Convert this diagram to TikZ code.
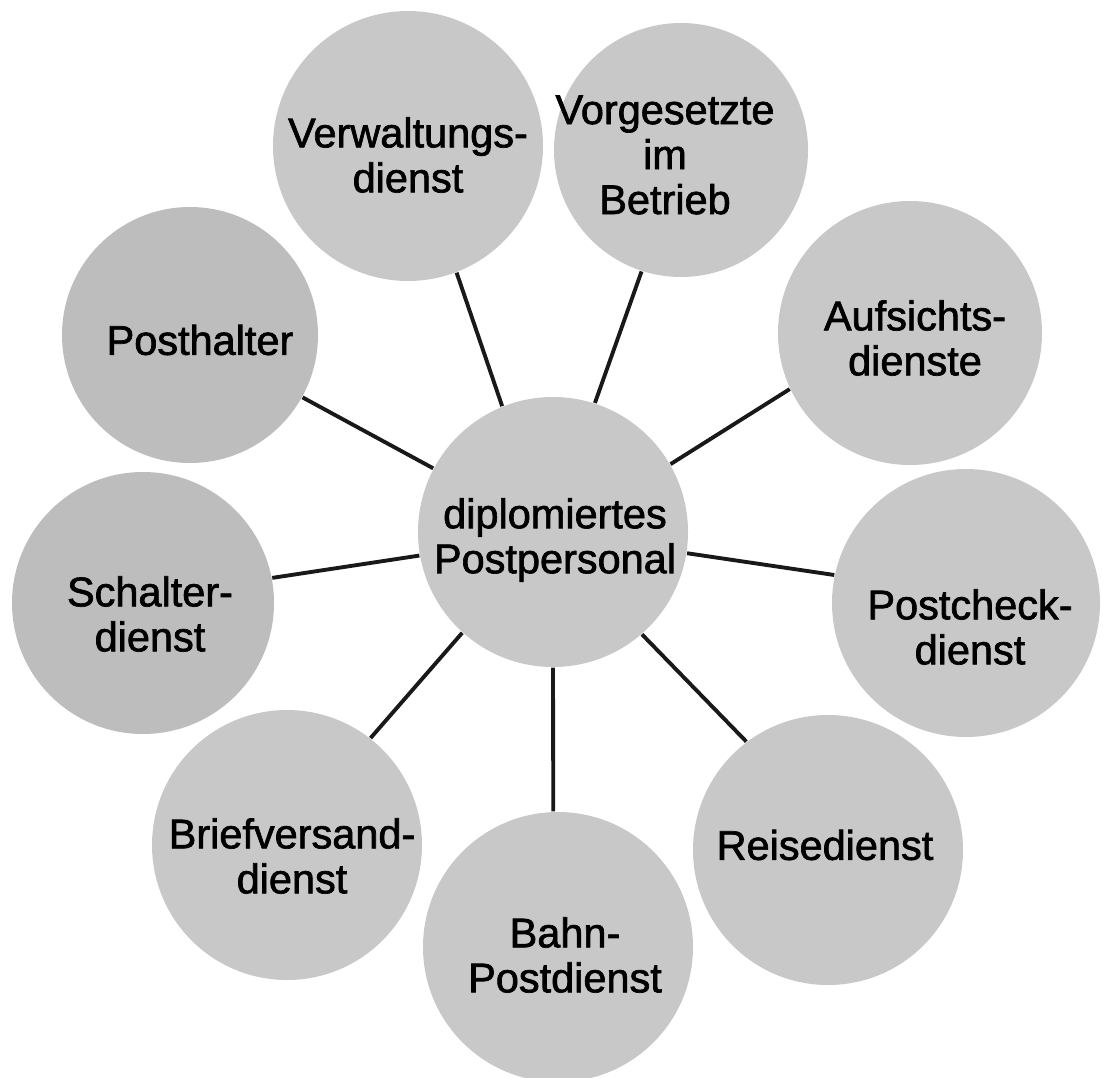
\documentclass[tikz,border=0pt]{standalone}
\usepackage{fontspec}
\setmainfont{Liberation Sans}
\newfontfamily\discfont{Liberation Sans}[FakeBold=1.6]
\usepackage{xcolor}
\definecolor{DotGrey}{HTML}{C8C8C8}
\definecolor{DotGreyDark}{HTML}{BDBDBD}

\begin{document}
\begin{tikzpicture}[
  every label/.style={font=\discfont\fontsize{11.8}{12.8}\selectfont, align=center, inner sep=0pt},
  disc/.style={circle, fill=DotGrey, inner sep=0pt, minimum size=#1},
  spoke/.style={line width=1.1pt, black!90}
]
\useasboundingbox (0,0) rectangle (11.03,-10.77);

% centre
\node[disc=2.70cm, label={[shift={(0.02,-0.08)}]center:{diplomiertes\\Postpersonal}}] (hub) at (5.53,-5.32) {};

% ring of services
\node[disc=2.70cm, label={[shift={(0,-0.09)}]center:{Verwaltungs-\\dienst}}] (verw) at (4.08,-1.46) {};
\node[disc=2.54cm, label={[shift={(-0.16,-0.05)}]center:{Vorgesetzte\\im\\Betrieb}}] (vorg) at (6.81,-1.50) {};
\node[disc=2.64cm, label={[shift={(0.05,-0.05)}]center:{Aufsichts-\\dienste}}] (aufs) at (9.10,-3.33) {};
\node[disc=2.68cm, label={[shift={(0.04,-0.24)}]center:{Postcheck-\\dienst}}] (check) at (9.66,-6.03) {};
\node[disc=2.70cm, label={[shift={(-0.03,0.05)}]center:{Reisedienst}}] (reise) at (8.28,-8.50) {};
\node[disc=2.70cm, label={[shift={(0.07,-0.08)}]center:{Bahn-\\Postdienst}}] (bahn) at (5.58,-9.47) {};
\node[disc=2.70cm, label={[shift={(0.05,-0.11)}]center:{Briefversand-\\dienst}}] (brief) at (2.87,-8.45) {};
\node[disc=2.62cm, fill=DotGreyDark, label={[shift={(0.07,-0.11)}]center:{Schalter-\\dienst}}] (schalt) at (1.43,-6.03) {};
\node[disc=2.56cm, fill=DotGreyDark, label={[shift={(0.10,-0.05)}]center:{Posthalter}}] (posth) at (1.90,-3.35) {};

% spokes
\draw[spoke] (hub.112) -- (verw.291);
\draw[spoke] (hub.72) -- (vorg.252);
\draw[spoke] (hub.30) -- (aufs.205);
\draw[spoke] (hub.351) -- (check.168);
\draw[spoke] (hub.311) -- (reise.127);
\draw[spoke] (hub.270) -- (bahn.92);
\draw[spoke] (hub.228) -- (brief.52);
\draw[spoke] (hub.190) -- (schalt.11);
\draw[spoke] (hub.152) -- (posth.331);
\end{tikzpicture}
\end{document}
